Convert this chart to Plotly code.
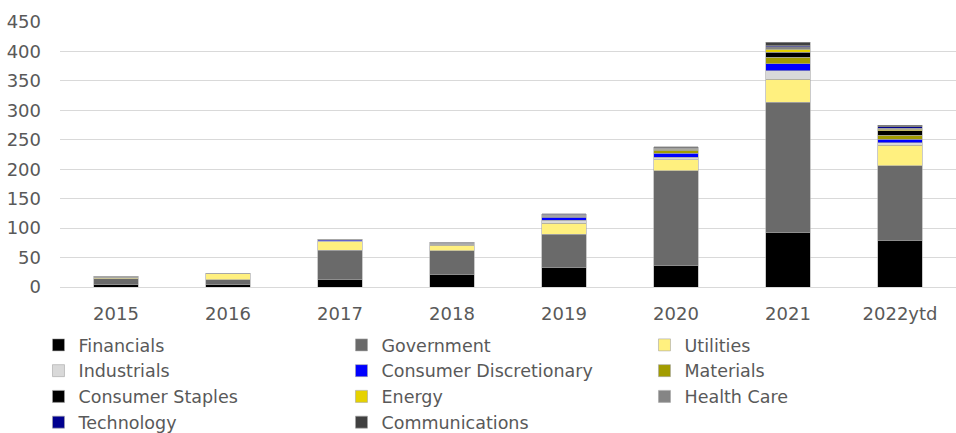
import plotly.graph_objects as go

years = ["2015", "2016", "2017", "2018", "2019", "2020", "2021", "2022ytd"]

financials = [4, 4, 12.5, 22, 33, 37, 92.5, 79]
government = [10, 8.5, 49.5, 39.5, 57, 160, 221.5, 127]
utilities = [1.5, 10, 15, 9.5, 18.5, 19, 39, 35]
industrials = [0.5, 0.5, 1.5, 2, 5, 4.5, 14, 4]
consumer_discretionary = [0, 0, 2, 1, 5, 7, 12, 5.5]
materials = [0.5, 0, 0, 0.5, 1, 4.5, 11, 7.5]
consumer_staples = [0, 0, 0, 0, 0.5, 1, 9, 7]
energy = [1.5, 0.5, 0.5, 0.5, 0.5, 1, 5, 3]
health_care = [0, 0, 0.3, 0.5, 1, 1.5, 4, 2]
technology = [0, 0, 0.2, 0.8, 2, 1, 2, 2]
communications = [0, 0, 0, 0, 1, 2, 6, 2.5]

sectors = [
    ("Financials", financials, "#000000"),
    ("Government", government, "#6a6a6a"),
    ("Utilities", utilities, "#fff07f"),
    ("Industrials", industrials, "#d9d9d9"),
    ("Consumer Discretionary", consumer_discretionary, "#0000ff"),
    ("Materials", materials, "#a29c00"),
    ("Consumer Staples", consumer_staples, "#000000"),
    ("Energy", energy, "#e6d200"),
    ("Health Care", health_care, "#858585"),
    ("Technology", technology, "#00008f"),
    ("Communications", communications, "#404040"),
]

FONT = "DejaVu Sans"
TEXT = "#595959"
SIZE = 18

fig = go.Figure()
for name, values, color in sectors:
    fig.add_trace(go.Bar(
        name=name, x=years, y=values,
        marker=dict(color=color, line=dict(color="#a6a6a6", width=0.6)),
    ))

fig.update_layout(
    barmode="stack",
    bargap=0.6,
    width=956, height=433,
    margin=dict(l=60, r=0, t=22, b=146, autoexpand=False),
    paper_bgcolor="white",
    plot_bgcolor="white",
    font=dict(family=FONT, size=SIZE, color=TEXT),
    xaxis=dict(showgrid=False, showline=False, ticks="", ticklabelstandoff=14,
               tickfont=dict(family=FONT, size=SIZE, color=TEXT)),
    yaxis=dict(range=[0, 450], dtick=50, showgrid=True, gridcolor="#d9d9d9",
               gridwidth=1, zeroline=True, zerolinecolor="#d9d9d9", zerolinewidth=1,
               ticks="", ticklabelstandoff=18,
               tickfont=dict(family=FONT, size=SIZE, color=TEXT)),
    legend=dict(orientation="h", x=-0.024, xanchor="left",
                y=-0.151, yanchor="top",
                entrywidth=258, entrywidthmode="pixels", traceorder="normal",
                font=dict(family=FONT, size=17.5, color=TEXT), tracegroupgap=0),
)

fig.write_html("out.html")
